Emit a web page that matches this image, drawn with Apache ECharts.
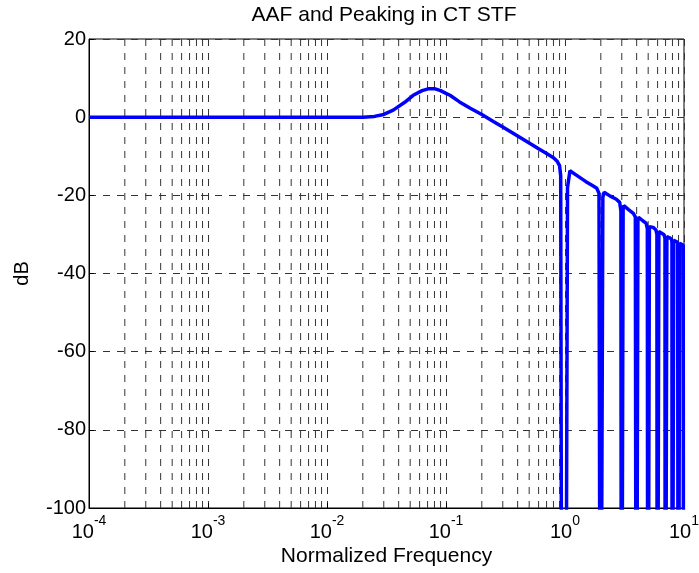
<!DOCTYPE html>
<html>
<head>
<meta charset="utf-8">
<script src="https://cdn.jsdelivr.net/npm/echarts@6/dist/echarts.min.js"></script>
<style>
  html, body { margin: 0; padding: 0; background: #fff; }
</style>
</head>
<body>
<div id="myChart" style="width: 699px; height: 573px;"></div>
<script>
  // normalized frequency and magnitude (dB)
  // the -200 points stand for the notches that run off the bottom of the axes
  const freq = [
    0.0001, 0.001, 0.01, 0.02, 0.025, 0.03, 0.036, 0.045, 0.053, 0.063, 0.072, 0.08, 0.09, 0.1, 0.108,
    0.13, 0.16, 0.2, 0.25, 0.3, 0.4, 0.5, 0.6, 0.7, 0.8, 0.86, 0.9, 0.92, 0.945,
    1.007, 1.05, 1.1, 1.3, 1.5, 1.7, 1.85, 1.93, 1.986,
    2.014, 2.08, 2.13, 2.4, 2.7, 2.88, 2.95, 2.979,
    3.021, 3.08, 3.12, 3.4, 3.75, 3.9, 3.972,
    4.028, 4.1, 4.15, 4.5, 4.8, 4.92, 4.965,
    5.035, 5.12, 5.2, 5.5, 5.8, 5.92, 5.958,
    6.042, 6.15, 6.4, 6.8, 6.92, 6.951,
    7.049, 7.18, 7.5, 7.85, 7.92, 7.944,
    8.056, 8.2, 8.5, 8.85, 8.92, 8.937,
    9.063, 9.2, 9.5, 9.85, 9.92, 9.93
  ];
  const db = [
    0, 0, 0, 0, 0.2, 0.7, 1.8, 3.8, 5.6, 6.8, 7.3, 7.3, 6.8, 6.1, 5.6,
    3.9, 2.3, 0.7, -1.1, -2.5, -4.8, -6.6, -8.1, -9.3, -10.4, -11.3, -12.4, -15, -200,
    -200, -18, -13.7, -15.2, -16.5, -17.5, -18.2, -19.5, -200,
    -200, -20.5, -19.2, -20.2, -21, -21.8, -24, -200,
    -200, -23.5, -22.6, -23.6, -24.6, -25.5, -200,
    -200, -26.2, -25.6, -26.5, -27.1, -28.5, -200,
    -200, -28, -27.7, -28.2, -28.8, -30, -200,
    -200, -29.2, -29.6, -30.1, -31, -200,
    -200, -30.6, -30.8, -31.2, -32, -200,
    -200, -31.5, -31.7, -32, -32.5, -200,
    -200, -32.3, -32.5, -32.8, -33.3, -200
  ];
  const yTicks = [-100, -80, -60, -40, -20, 0, 20];
  const decades = [-4, -3, -2, -1, 0, 1];

  // minor log grid lines at 2..9 of every decade, drawn as broken line pieces
  const minorGrid = [];
  for (let i = 0; i < decades.length - 1; i++) {
    for (let k = 2; k <= 9; k++) {
      const v = k * Math.pow(10, decades[i]);
      minorGrid.push([v, yTicks[0]], [v, yTicks[yTicks.length - 1]], [v, '-']);
    }
  }

  const font = 'Liberation Sans, Arial, sans-serif';
  const dash = { color: '#333', type: [7, 7], width: 1 };
  const myChart = echarts.init(document.getElementById('myChart'));

  myChart.setOption({
    animation: false,
    title: {
      text: 'AAF and Peaking in CT STF',
      left: 379,
      textAlign: 'center',
      top: 0,
      textStyle: { color: '#000', fontSize: 21, fontWeight: 'normal', fontFamily: font }
    },
    grid: {
      left: 89, right: 15, top: 39, bottom: 65,
      outerBoundsMode: 'none',
      show: true, borderColor: '#000', borderWidth: 1, backgroundColor: '#fff'
    },
    xAxis: {
      type: 'log',
      logBase: 10,
      min: 0.0001,
      max: 10,
      interval: 1,
      name: 'Normalized Frequency',
      nameLocation: 'middle',
      nameGap: 38,
      nameMoveOverlap: false,
      nameTextStyle: { color: '#000', fontSize: 21, fontFamily: font },
      axisLine: { onZero: false, lineStyle: { color: '#000', width: 1 } },
      axisTick: { inside: true, length: 5, lineStyle: { color: '#000' } },
      axisLabel: {
        margin: 13,
        formatter: function (v) {
          const e = Math.round(Math.log10(v));
          return '{b|10}{s|' + e + '}';
        },
        rich: {
          b: { fontSize: 20, lineHeight: 22, fontFamily: font, color: '#000' },
          s: { fontSize: 14, lineHeight: 14, fontFamily: font, color: '#000', padding: [0, 0, 22, 0] }
        }
      },
      splitLine: { show: true, lineStyle: dash }
    },
    yAxis: {
      type: 'value',
      min: yTicks[0],
      max: yTicks[yTicks.length - 1],
      interval: 20,
      name: 'dB',
      nameLocation: 'middle',
      nameGap: 57,
      nameMoveOverlap: false,
      nameTextStyle: { color: '#000', fontSize: 20, fontFamily: font },
      axisLine: { show: true, onZero: false, lineStyle: { color: '#000', width: 1 } },
      axisTick: { show: true, inside: true, length: 5, lineStyle: { color: '#000' } },
      axisLabel: { color: '#000', fontSize: 20, fontFamily: font, margin: 3 },
      splitLine: { show: true, lineStyle: dash }
    },
    series: [
      {
        name: 'minor grid',
        type: 'line',
        z: 1,
        silent: true,
        showSymbol: false,
        connectNulls: false,
        lineStyle: dash,
        data: minorGrid
      },
      {
        name: 'AAF',
        type: 'line',
        z: 3,
        showSymbol: false,
        clip: true,
        lineStyle: { color: '#0000ff', width: 3.5 },
        data: freq.map((f, i) => [f, db[i]])
      }
    ]
  });
</script>
</body>
</html>
